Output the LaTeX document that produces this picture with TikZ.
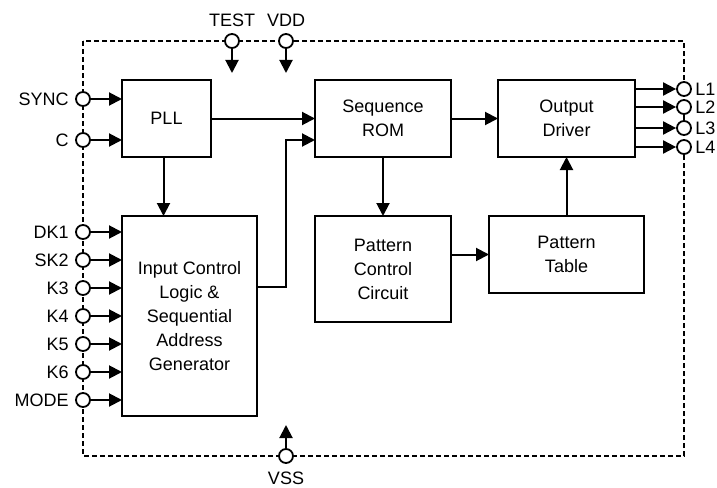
\documentclass[tikz,border=0pt]{standalone}
\usepackage{fontspec}
\setmainfont{Liberation Sans}
\usetikzlibrary{positioning, arrows.meta, calc}

\begin{document}
\begin{tikzpicture}[
    x=1pt, y=-1pt,
    >={Triangle[length=13pt, width=13pt]},
    every node/.style={font=\fontsize{18}{24}\selectfont},
    block/.style={
      rectangle, draw, line width=2pt, align=center,
      inner sep=2pt, outer sep=0pt
    },
    iopad/.style={
      circle, draw, fill=white, line width=1.8pt,
      minimum size=14pt, inner sep=0pt
    },
    arr/.style={->, line width=2pt},
    border/.style={line width=1.8pt, dash pattern=on 5pt off 3pt},
  ]

  \useasboundingbox (0,0) rectangle (717,487);

  % chip outline
  \draw[border] (83,41) rectangle (684,456);

  \node[block, minimum width=89pt, minimum height=77pt] (pll) at (166.5,118.5) {PLL};
  \node[block, minimum width=136pt, minimum height=77pt, right=104pt of pll] (rom) {Sequence\\ROM};
  \node[block, minimum width=137pt, minimum height=77pt, right=47pt of rom] (drv) {Output\\Driver};
  \node[block, minimum width=135pt, minimum height=200pt,
        below=59pt of pll.south west, anchor=north west] (ictl)
    {Input Control\\Logic \&\\Sequential\\Address\\Generator};
  \node[block, minimum width=136pt, minimum height=106pt, below=59pt of rom] (pcc)
    {Pattern\\Control\\Circuit};
  \node[block, minimum width=155pt, minimum height=77pt,
        right=38pt of pcc.north east, anchor=north west] (ptab) {Pattern\\Table};

  % pins
  \node[iopad, label={[label distance=3pt]left:SYNC}] (psync) at (83,99) {};
  \node[iopad, label={[label distance=3pt]left:C}] (pc) at (83,140) {};
  \foreach \name/\y in {DK1/232, SK2/260, K3/288, K4/316, K5/344, K6/372, MODE/400} {
    \node[iopad, label={[label distance=3pt]left:\name}] (p\name) at (83,\y) {};
    \draw[arr] (p\name) -- (p\name -| ictl.west);
  }

  \node[iopad, label={[label distance=3pt]above:TEST}] (ptest) at (232,41) {};
  \node[iopad, label={[label distance=3pt]above:VDD}] (pvdd) at (286,41) {};
  \node[iopad, label={[label distance=4pt]below:VSS}] (pvss) at (286,456) {};
  \coordinate (testin) at (232,73);
  \coordinate (vddin) at (286,73);
  \coordinate (vssin) at (286,425);

  \foreach \i/\y in {1/89, 2/107, 3/128, 4/147} {
    \node[iopad, label={[label distance=0pt]right:L\i}] (pl\i) at (684,\y) {};
    \draw[arr] (drv.east |- pl\i) -- (pl\i);
  }

  \draw[arr] (psync) -- (psync -| pll.west);
  \draw[arr] (pc) -- (pc -| pll.west);
  \draw[arr] (ptest) -- (testin);
  \draw[arr] (pvdd) -- (vddin);
  \draw[arr] (pvss) -- (vssin);

  \draw[arr] (pll) -- (rom);
  \draw[arr] (rom) -- (drv);
  \draw[arr] ($(pll.south)+(-3,0)$) -- ($(pll.south |- ictl.north)+(-3,0)$);
  \draw[arr] (rom) -- (pcc);
  \draw[arr] (ptab) -- (drv);
  \draw[arr] (ptab.west -| pcc.east) -- (ptab.west);
  \draw[arr] ($(ictl.east)+(0,-29)$) -- ++(29,0) |- ($(rom.west)+(0,21.5)$);

\end{tikzpicture}
\end{document}
